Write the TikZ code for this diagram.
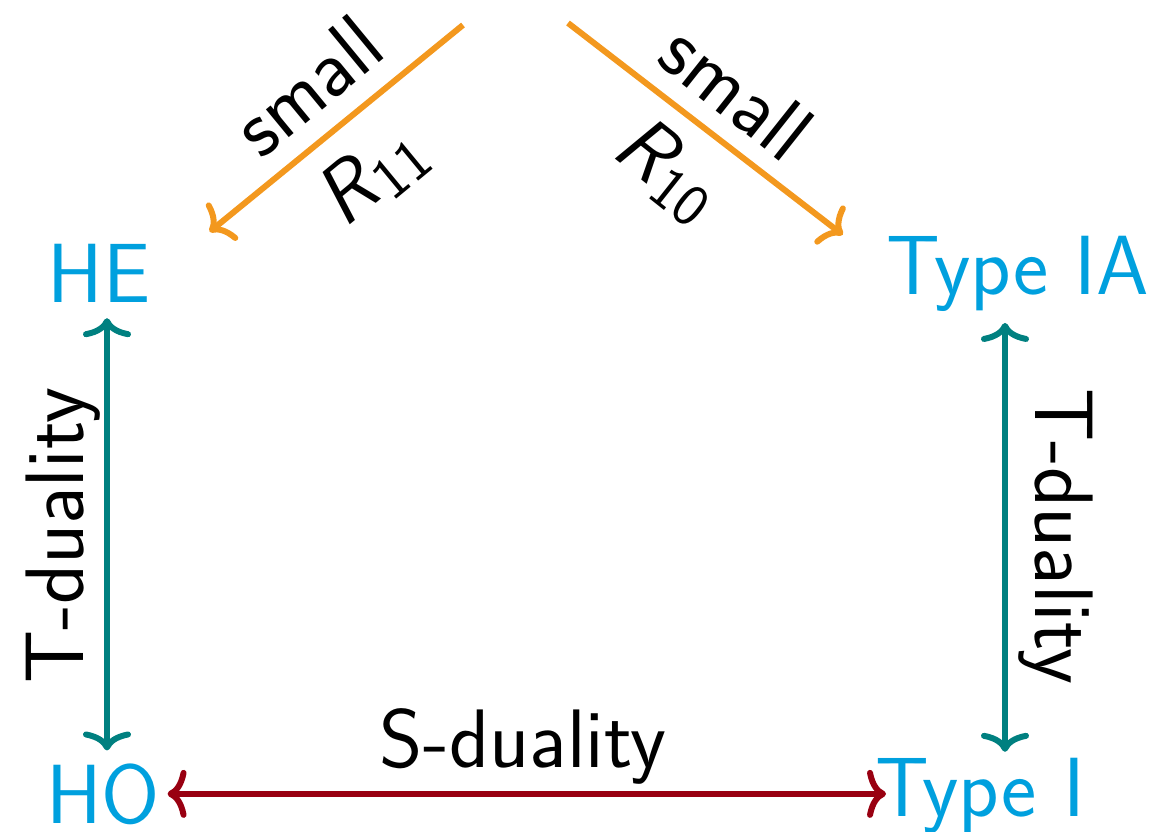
\documentclass[tikz,border=0pt]{standalone}
\usetikzlibrary{arrows.meta}
\definecolor{nodeblue}{RGB}{0,160,222}
\definecolor{tealc}{RGB}{0,128,128}
\definecolor{orangec}{RGB}{243,152,30}
\definecolor{redc}{RGB}{153,0,17}
\newcommand{\mysub}[1]{\kern-0.03em\raisebox{-0.12em}{\fontsize{60}{60}\selectfont #1}}
\tikzset{
  theory/.style={text=nodeblue, inner sep=0pt, font=\sffamily\fontsize{84}{96}\selectfont},
  lab/.style={text=black, inner sep=0pt, font=\sffamily\fontsize{83}{96}\selectfont},
  tip/.style={-{To[length=19pt,width=48pt]}},
  dbl/.style={{To[length=19pt,width=48pt]}-{To[length=19pt,width=48pt]}},
  conn/.style={line width=6pt},
}
\begin{document}
\begin{tikzpicture}[x=1pt,y=-1pt]
\useasboundingbox (0,0) rectangle (1149,831);
% theory nodes
\node[theory, anchor=base] (HE) at (99,302) {HE};
\node[theory, anchor=base] (TIA) at (1018,294) {Type IA};
\node[theory, anchor=base] (HO) at (103,823) {HO};
\node[theory, anchor=base] (TI) at (980,816) {Type I};
% off-picture sources
\coordinate (srcL) at (463,25);
\coordinate (srcR) at (568,23);
% connectors
\draw[conn, tealc, dbl] ([xshift=8pt,yshift=-16pt]HE.south) -- ([xshift=4pt,yshift=12.7pt]HO.north);
\draw[conn, tealc, dbl] ([xshift=-13pt,yshift=-11.7pt]TIA.south) -- ([xshift=25pt,yshift=5.7pt]TI.north);
\draw[conn, redc, dbl] ([xshift=7.4pt]HO.east) -- ([xshift=11pt]TI.west |- HO.east);
\draw[conn, orangec, tip] (srcL) -- ([xshift=59pt,yshift=11.7pt]HE.north east);
\draw[conn, orangec, tip] (srcR) -- ([xshift=-44pt,yshift=0.7pt]TIA.north west);
% labels
\node[lab, rotate=90, anchor=base] (tl) at (83,536) {T-duality};
\node[lab, rotate=-90, anchor=base] (tr) at (1035,536) {T-duality};
\node[lab, anchor=base] (sd) at (523,767) {S-duality};
\node[lab, rotate=39.5] (sl) at (307,86) {small};
\node[lab, rotate=39.5] (rl) at (372,176) {\textit{R}\mysub{11}};
\node[lab, rotate=-38.4] (sr) at (737,91) {small};
\node[lab, rotate=-38.4] (rr) at (667,170) {\textit{R}\mysub{10}};
\end{tikzpicture}
\end{document}
